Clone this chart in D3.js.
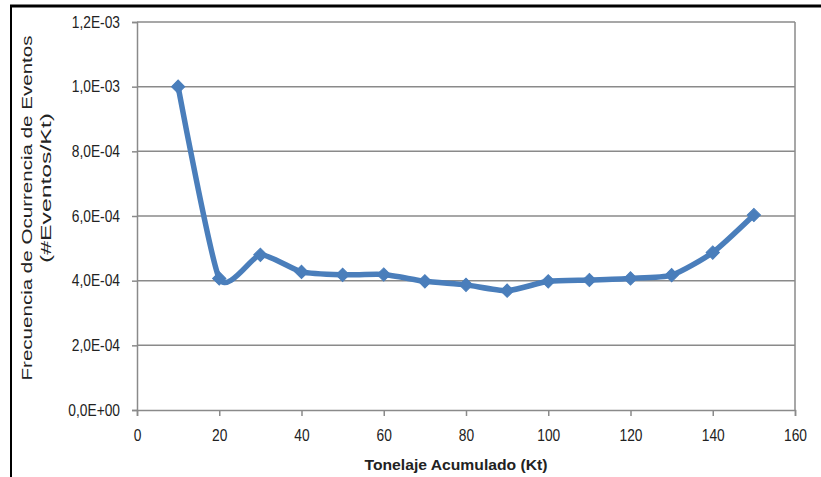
<!DOCTYPE html>
<html>
<head>
<meta charset="utf-8">
<script src="https://cdn.jsdelivr.net/npm/d3@7"></script>
<style>
  html, body { margin: 0; padding: 0; background: #fff; }
  svg { display: block; }
  text { font-family: "Liberation Sans", Arial, sans-serif; fill: #222; }
</style>
</head>
<body>
<svg id="chart" width="821" height="477"></svg>
<script>
// Accumulated tonnage (Kt) and event frequency (#events / Kt)
const tonnage   = [10, 20, 30, 40, 50, 60, 70, 80, 90, 100, 110, 120, 130, 140, 150];
const frequency = [1.0e-3, 4.07e-4, 4.8e-4, 4.27e-4, 4.18e-4, 4.19e-4, 3.98e-4, 3.87e-4, 3.69e-4,
                   3.98e-4, 4.02e-4, 4.07e-4, 4.17e-4, 4.87e-4, 6.03e-4];

const xTicks = [0, 20, 40, 60, 80, 100, 120, 140, 160];
const yTicks = [0, 2e-4, 4e-4, 6e-4, 8e-4, 1.0e-3, 1.2e-3];

const xTitle = "Tonelaje Acumulado (Kt)";
const yTitle = ["Frecuencia de Ocurrencia de Eventos", "(#Eventos/Kt)"];

const svg = d3.select("#chart");

const plotLeft = 137, plotRight = 795, plotTop = 22, plotBottom = 410;
const x = d3.scaleLinear().domain([0, 160]).range([plotLeft, plotRight]);
const y = d3.scaleLinear().domain([0, 1.2e-3]).range([plotBottom, plotTop]);

// Excel-like scientific labels: 1,2E-03
function sci(v) {
  if (v === 0) return "0,0E+00";
  const [m, e] = v.toExponential(1).split("e");
  const exp = parseInt(e, 10);
  const sign = exp < 0 ? "-" : "+";
  return m.replace(".", ",") + "E" + sign + String(Math.abs(exp)).padStart(2, "0");
}

// outer frame (top and left edges)
svg.append("line").attr("x1", 10).attr("x2", 821).attr("y1", 6).attr("y2", 6)
  .attr("stroke", "#000").attr("stroke-width", 3);
svg.append("line").attr("x1", 11).attr("x2", 11).attr("y1", 5).attr("y2", 477)
  .attr("stroke", "#000").attr("stroke-width", 2);

// horizontal gridlines
svg.append("g").selectAll("line").data(yTicks.filter(d => d > 0)).join("line")
  .attr("x1", plotLeft).attr("x2", plotRight)
  .attr("y1", d => y(d)).attr("y2", d => y(d))
  .attr("stroke", "#8a8a8a").attr("stroke-width", 1.5);

// right edge of plot area
svg.append("line").attr("x1", plotRight).attr("x2", plotRight).attr("y1", plotTop).attr("y2", plotBottom)
  .attr("stroke", "#8a8a8a").attr("stroke-width", 1.5);

// axes
const yAxis = svg.append("g").attr("transform", `translate(${plotLeft},0)`)
  .call(d3.axisLeft(y).tickValues(yTicks).tickFormat(sci).tickSize(5).tickPadding(12));
const xAxis = svg.append("g").attr("transform", `translate(0,${plotBottom})`)
  .call(d3.axisBottom(x).tickValues(xTicks).tickFormat(d3.format("d")).tickSize(6).tickPadding(21));

[yAxis, xAxis].forEach(g => {
  g.select(".domain").attr("stroke", "#8a8a8a").attr("stroke-width", 1.5);
  g.selectAll(".tick line").attr("stroke", "#8a8a8a").attr("stroke-width", 1.5);
  g.selectAll(".tick text")
    .attr("font-family", "Liberation Sans, Arial, sans-serif")
    .attr("font-size", 16).attr("fill", "#222")
    .each(function () {
      const w = this.getComputedTextLength();
      d3.select(this).attr("textLength", w * 0.86).attr("lengthAdjust", "spacingAndGlyphs");
    });
});
xAxis.selectAll(".tick text").attr("dy", "0.25em");

// axis titles
svg.append("text").attr("x", 456).attr("y", 470).attr("text-anchor", "middle")
  .attr("font-size", 15).attr("font-weight", "bold").attr("fill", "#222")
  .attr("textLength", 183).attr("lengthAdjust", "spacingAndGlyphs")
  .text(xTitle);

svg.append("text").attr("transform", "translate(32,208) rotate(-90)")
  .attr("text-anchor", "middle").attr("font-size", 15)
  .attr("textLength", 345).attr("lengthAdjust", "spacingAndGlyphs")
  .text(yTitle[0]);
svg.append("text").attr("transform", "translate(51,188) rotate(-90)")
  .attr("text-anchor", "middle").attr("font-size", 15)
  .attr("textLength", 150).attr("lengthAdjust", "spacingAndGlyphs")
  .text(yTitle[1]);

// smoothed series line
const data = tonnage.map((t, i) => ({ t, f: frequency[i] }));
const color = "#4a7ebb";
svg.append("path").datum(data)
  .attr("fill", "none").attr("stroke", color).attr("stroke-width", 5.5)
  .attr("stroke-linejoin", "round").attr("stroke-linecap", "round")
  .attr("d", d3.line().x(d => x(d.t)).y(d => y(d.f)).curve(d3.curveCardinal.tension(0.4)));

// diamond markers
const diamond = d3.symbol().type(d3.symbolSquare).size(88);
svg.append("g").selectAll("path").data(data).join("path")
  .attr("transform", d => `translate(${x(d.t)},${y(d.f)}) rotate(45)`)
  .attr("d", diamond).attr("fill", color).attr("stroke", color).attr("stroke-width", 1);
</script>
</body>
</html>
